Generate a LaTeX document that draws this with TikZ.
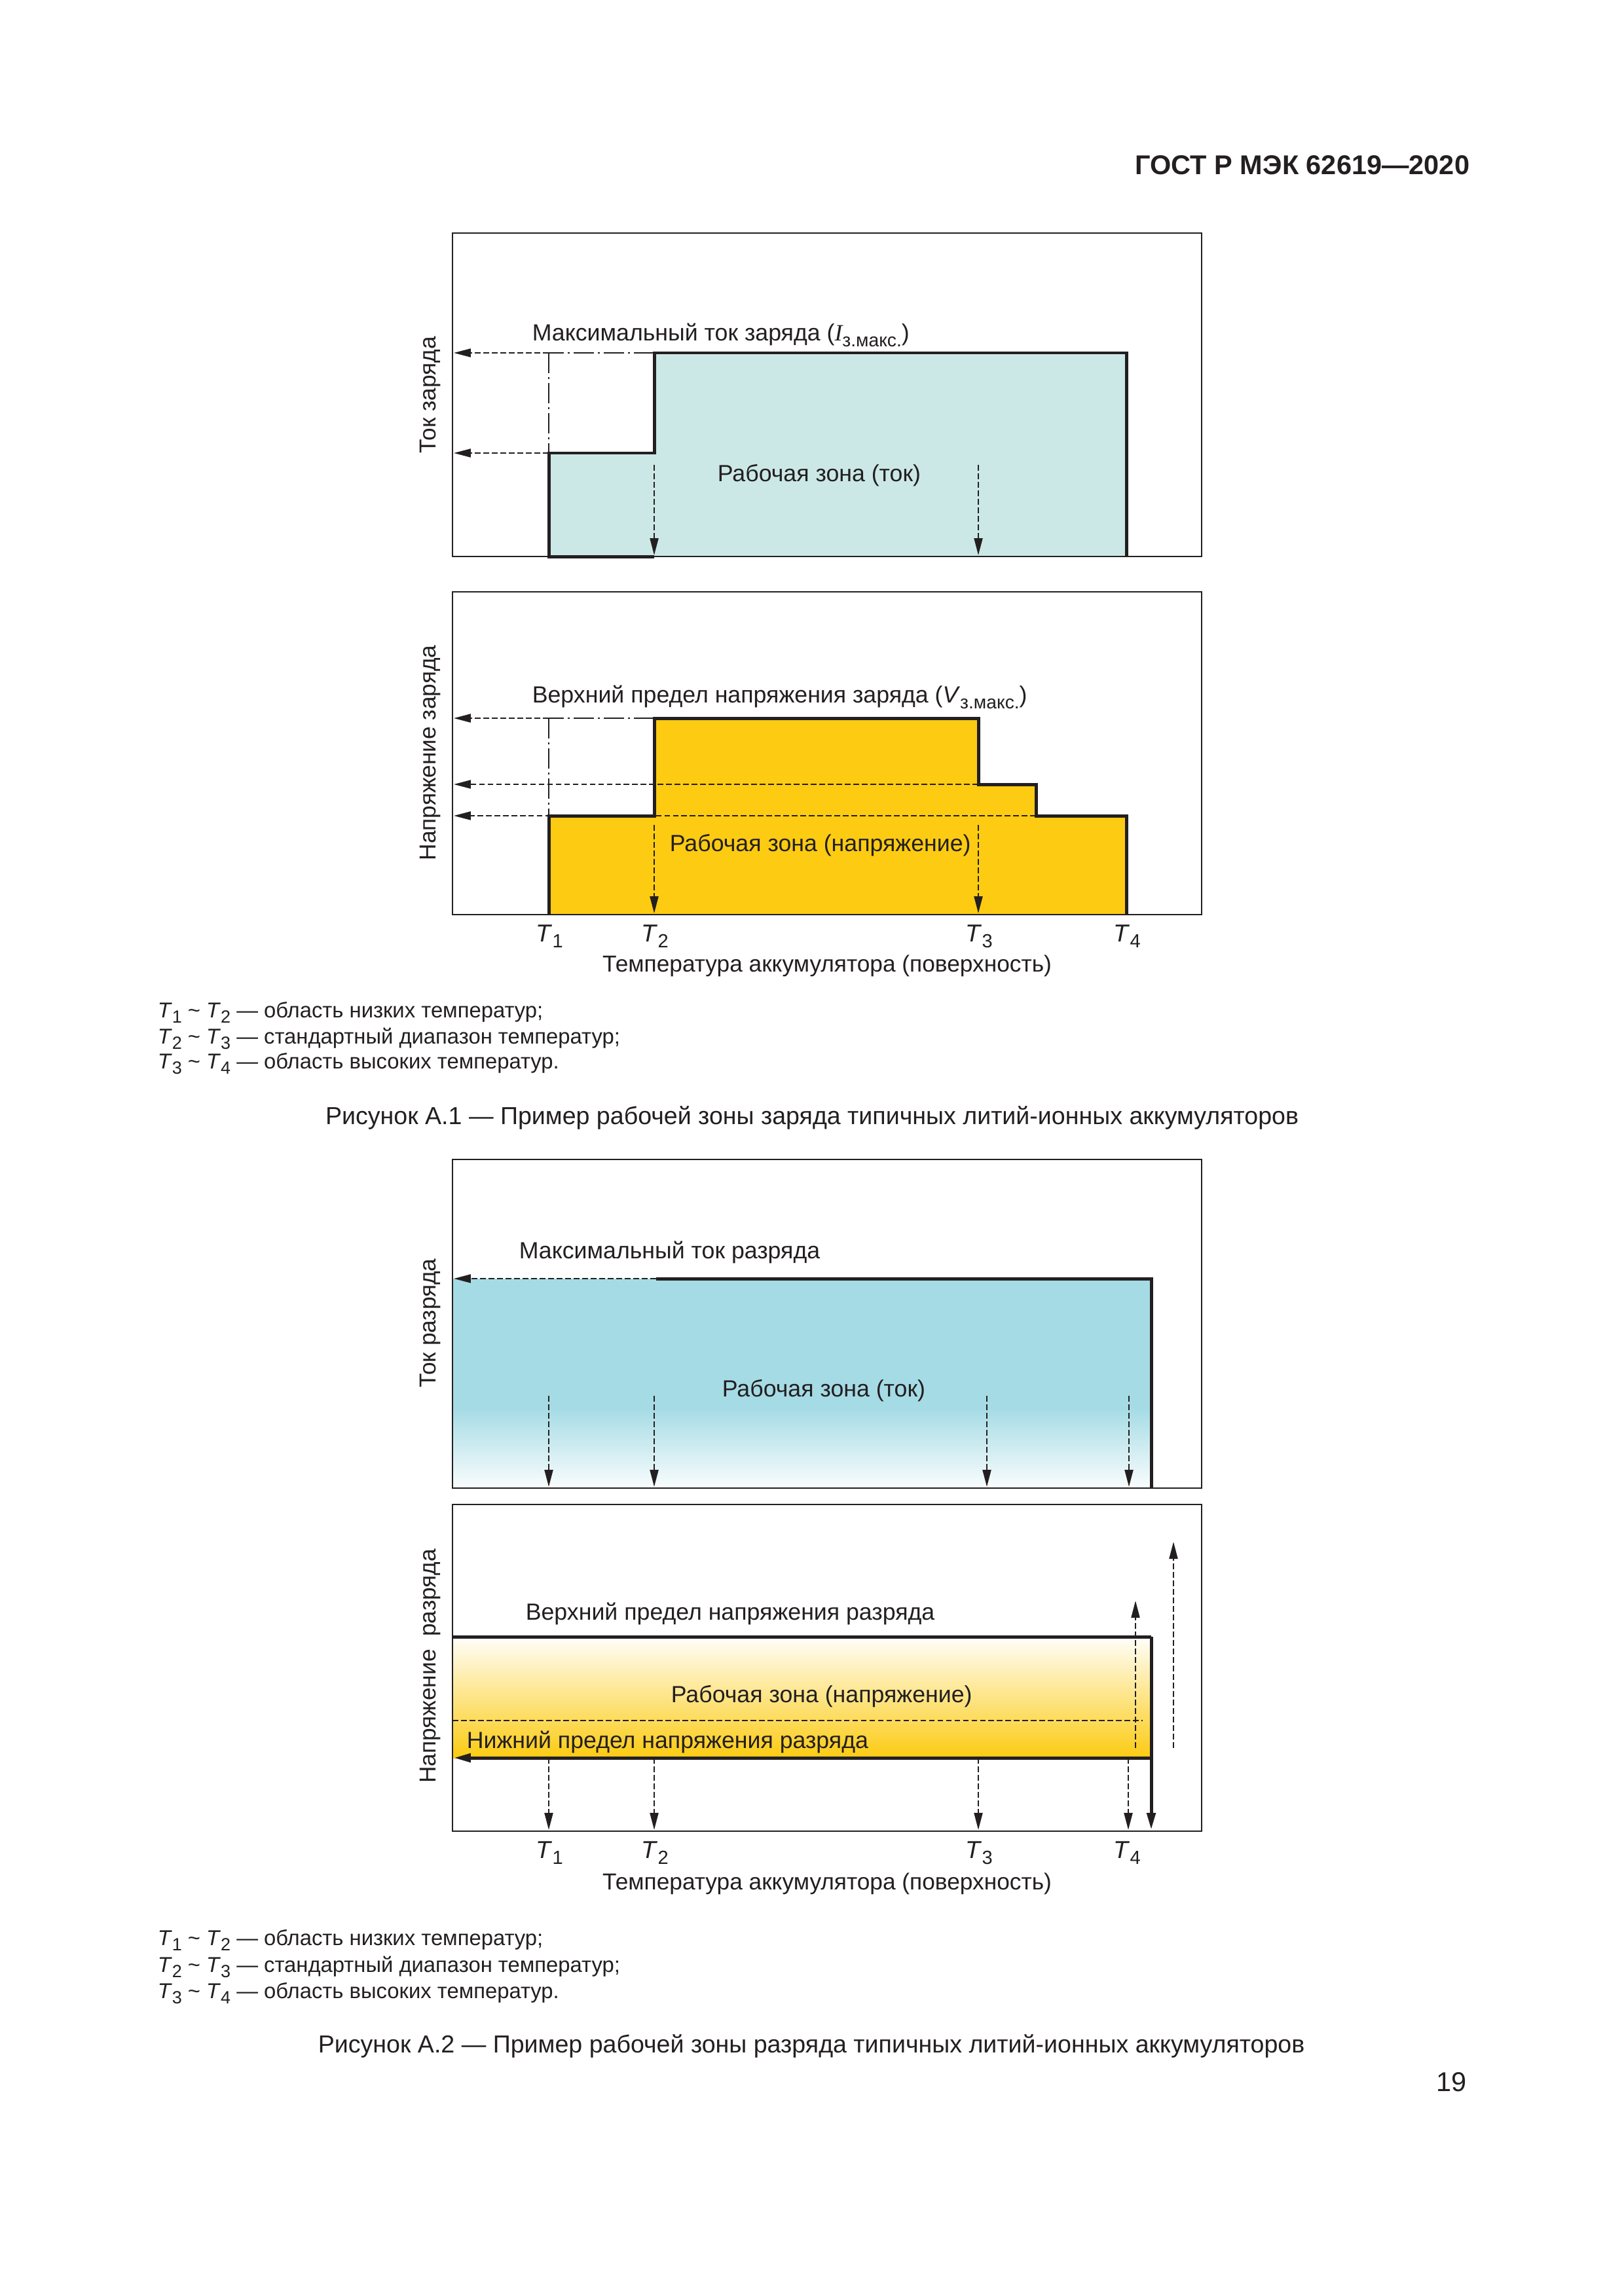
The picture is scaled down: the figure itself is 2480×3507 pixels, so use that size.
\documentclass[tikz,border=0pt]{standalone}
\usepackage{fontspec}
\setmainfont{Liberation Sans}
\newfontfamily\timesf{Liberation Serif}
\usetikzlibrary{arrows.meta}
\definecolor{tealfill}{HTML}{CBE8E6}
\definecolor{gold}{HTML}{FCCB12}
\definecolor{skyfill}{HTML}{A5DBE5}
\definecolor{ink}{HTML}{231F20}
\newcommand\Tsym[1]{\textit{T}\rlap{\raisebox{-0.5ex}{\fontsize{7}{8}\selectfont #1}}}
\newcommand\Tleg[1]{\textit{T}\raisebox{-0.5ex}{\fontsize{6.5}{7}\selectfont #1}}
\newcommand\zsub{\raisebox{-0.5ex}{\fontsize{6.8}{8}\selectfont з.макс.}}
\tikzset{
  frame/.style={draw=ink, line width=0.7pt},
  thk/.style={draw=ink, line width=1.2pt},
  dsh/.style={draw=ink, line width=0.5pt, dash pattern=on 0.75mm off 0.35mm},
  dashdot/.style={draw=ink, line width=0.5pt, dash pattern=on 2.6mm off 0.5mm on 0.3mm off 0.5mm},
  tip/.style={-{Triangle[length=2.2mm,width=1.1mm]}},
  lbl/.style={anchor=base west, inner sep=0, text=ink, font=\fontsize{8.6}{10}\selectfont},
  tl/.style={anchor=base, inner sep=0, text=ink, font=\fontsize{9}{10}\selectfont},
  xlab/.style={anchor=base, inner sep=0, text=ink, font=\fontsize{8.5}{10}\selectfont},
  ylab/.style={rotate=90, inner sep=0, text=ink, font=\fontsize{8.5}{10}\selectfont},
  leg/.style={anchor=base west, inner sep=0, text=ink, font=\fontsize{7.9}{9}\selectfont},
  figcap/.style={anchor=base, inner sep=0, text=ink, font=\fontsize{9.05}{11}\selectfont},
}
\begin{document}
\begin{tikzpicture}[x=0.084677mm, y=-0.084677mm]
\useasboundingbox (0,0) rectangle (2480,3507);
\fill[white] (0,0) rectangle (2480,3507);

% header
\node[anchor=base east, inner sep=0, text=ink, font=\bfseries\fontsize{10}{12}\selectfont] (header) at (2245,266) {ГОСТ Р МЭК 62619—2020};

%================ Figure A.1, current panel
\fill[tealfill] (838,850) -- (838,692) -- (999,692) -- (999,539) -- (1720,539) -- (1720,850) -- cycle;
\draw[frame] (691,356) rectangle (1835,850);
\draw[dashdot] (999,539) -- (838,539);
\draw[dsh,tip] (838,539) -- (693,539);
\draw[dashdot] (838,539) -- (838,692);
\draw[dsh,tip] (838,692) -- (693,692);
\draw[dsh,tip] (999,710) -- (999,848);
\draw[dsh,tip] (1494,710) -- (1494,848);
\draw[thk] (999,850) -- (838,850) -- (838,692) -- (999,692) -- (999,539) -- (1720,539) -- (1720,850);
\node[lbl] (imax) at (812,520) {Максимальный ток заряда ({\timesf\itshape I}\zsub)};
\node[lbl] (zone1) at (1095,735) {Рабочая зона (ток)};
\node[ylab] (y1) at (657,603) {Ток заряда};

%================ Figure A.1, voltage panel
\fill[gold] (838,1397) -- (838,1246) -- (999,1246) -- (999,1097) -- (1494,1097) -- (1494,1198) -- (1582,1198) -- (1582,1246) -- (1720,1246) -- (1720,1397) -- cycle;
\draw[frame] (691,904) rectangle (1835,1397);
\draw[dashdot] (999,1097) -- (838,1097);
\draw[dsh,tip] (838,1097) -- (693,1097);
\draw[dashdot] (838,1097) -- (838,1246);
\draw[dsh,tip] (1494,1198) -- (693,1198);
\draw[dsh,tip] (1582,1246) -- (693,1246);
\draw[dsh,tip] (999,1260) -- (999,1395);
\draw[dsh,tip] (1494,1260) -- (1494,1395);
\draw[thk] (838,1397) -- (838,1246) -- (999,1246) -- (999,1097) -- (1494,1097) -- (1494,1198) -- (1582,1198) -- (1582,1246) -- (1720,1246) -- (1720,1397);
\node[lbl] (vmax) at (812,1073) {Верхний предел напряжения заряда (\textit{V}\zsub)};
\node[lbl] (zone2) at (1022,1300) {Рабочая зона (напряжение)};
\node[ylab] (y2) at (657,1150) {Напряжение заряда};
\node[tl] (a1) at (831,1438) {\Tsym{1}};
\node[tl] (a2) at (992,1438) {\Tsym{2}};
\node[tl] (a3) at (1487,1438) {\Tsym{3}};
\node[tl] (a4) at (1713,1438) {\Tsym{4}};
\node[xlab] (xa) at (1263,1484) {Температура аккумулятора (поверхность)};

% legend 1
\node[leg] (l11) at (240,1554) {\Tleg{1} \textasciitilde{} \Tleg{2} — область низких температур;};
\node[leg] (l12) at (240,1594) {\Tleg{2} \textasciitilde{} \Tleg{3} — стандартный диапазон температур;};
\node[leg] (l13) at (240,1632) {\Tleg{3} \textasciitilde{} \Tleg{4} — область высоких температур.};
\node[figcap] (c1) at (1240,1717) {Рисунок А.1 — Пример рабочей зоны заряда типичных литий-ионных аккумуляторов};

%================ Figure A.2, current panel
\fill[skyfill] (691,1953) rectangle (1758,2150);
\shade[top color=skyfill, bottom color=skyfill!6] (691,2150) rectangle (1758,2273);
\draw[frame] (691,1771) rectangle (1835,2273);
\draw[dsh,tip] (1002,1953) -- (693,1953);
\draw[thk] (1002,1953) -- (1758,1953) -- (1758,2273);
\draw[dsh,tip] (838,2132) -- (838,2271);
\draw[dsh,tip] (999,2132) -- (999,2271);
\draw[dsh,tip] (1507,2132) -- (1507,2271);
\draw[dsh,tip] (1724,2132) -- (1724,2271);
\node[lbl] (idis) at (792,1922) {Максимальный ток разряда};
\node[lbl] (zone3) at (1102,2133) {Рабочая зона (ток)};
\node[ylab] (y3) at (657,2021) {Ток разряда};

%================ Figure A.2, voltage panel
\shade[top color=gold!2, bottom color=gold] (691,2500) rectangle (1758,2685);
\draw[frame] (691,2298) rectangle (1835,2797);
\draw[dsh] (691,2628) -- (1745,2628);
\draw[dsh,tip] (1734,2670) -- (1734,2445);
\draw[dsh,tip] (1792,2670) -- (1792,2355);
\draw[dsh,tip] (838,2685) -- (838,2795);
\draw[dsh,tip] (999,2685) -- (999,2795);
\draw[dsh,tip] (1494,2685) -- (1494,2795);
\draw[dsh,tip] (1723,2685) -- (1723,2795);
\draw[thk] (691,2500) -- (1758,2500);
\draw[thk,tip] (1758,2500) -- (1758,2795);
\draw[thk,tip] (1758,2685) -- (693,2685);
\node[lbl] (vup) at (802,2474) {Верхний предел напряжения разряда};
\node[lbl] (zone4) at (1024,2600) {Рабочая зона (напряжение)};
\node[lbl] (vlow) at (712,2670) {Нижний предел напряжения разряда};
\node[ylab] (y4) at (657,2545) {Напряжение\ \ разряда};
\node[tl] (b1) at (831,2838) {\Tsym{1}};
\node[tl] (b2) at (992,2838) {\Tsym{2}};
\node[tl] (b3) at (1487,2838) {\Tsym{3}};
\node[tl] (b4) at (1713,2838) {\Tsym{4}};
\node[xlab] (xb) at (1263,2886) {Температура аккумулятора (поверхность)};

% legend 2
\node[leg] (l21) at (240,2971) {\Tleg{1} \textasciitilde{} \Tleg{2} — область низких температур;};
\node[leg] (l22) at (240,3012) {\Tleg{2} \textasciitilde{} \Tleg{3} — стандартный диапазон температур;};
\node[leg] (l23) at (240,3052) {\Tleg{3} \textasciitilde{} \Tleg{4} — область высоких температур.};
\node[figcap] (c2) at (1239,3135) {Рисунок А.2 — Пример рабочей зоны разряда типичных литий-ионных аккумуляторов};

\node[anchor=base east, inner sep=0, text=ink, font=\fontsize{10}{12}\selectfont] (pg) at (2240,3194) {19};
\end{tikzpicture}
\end{document}
